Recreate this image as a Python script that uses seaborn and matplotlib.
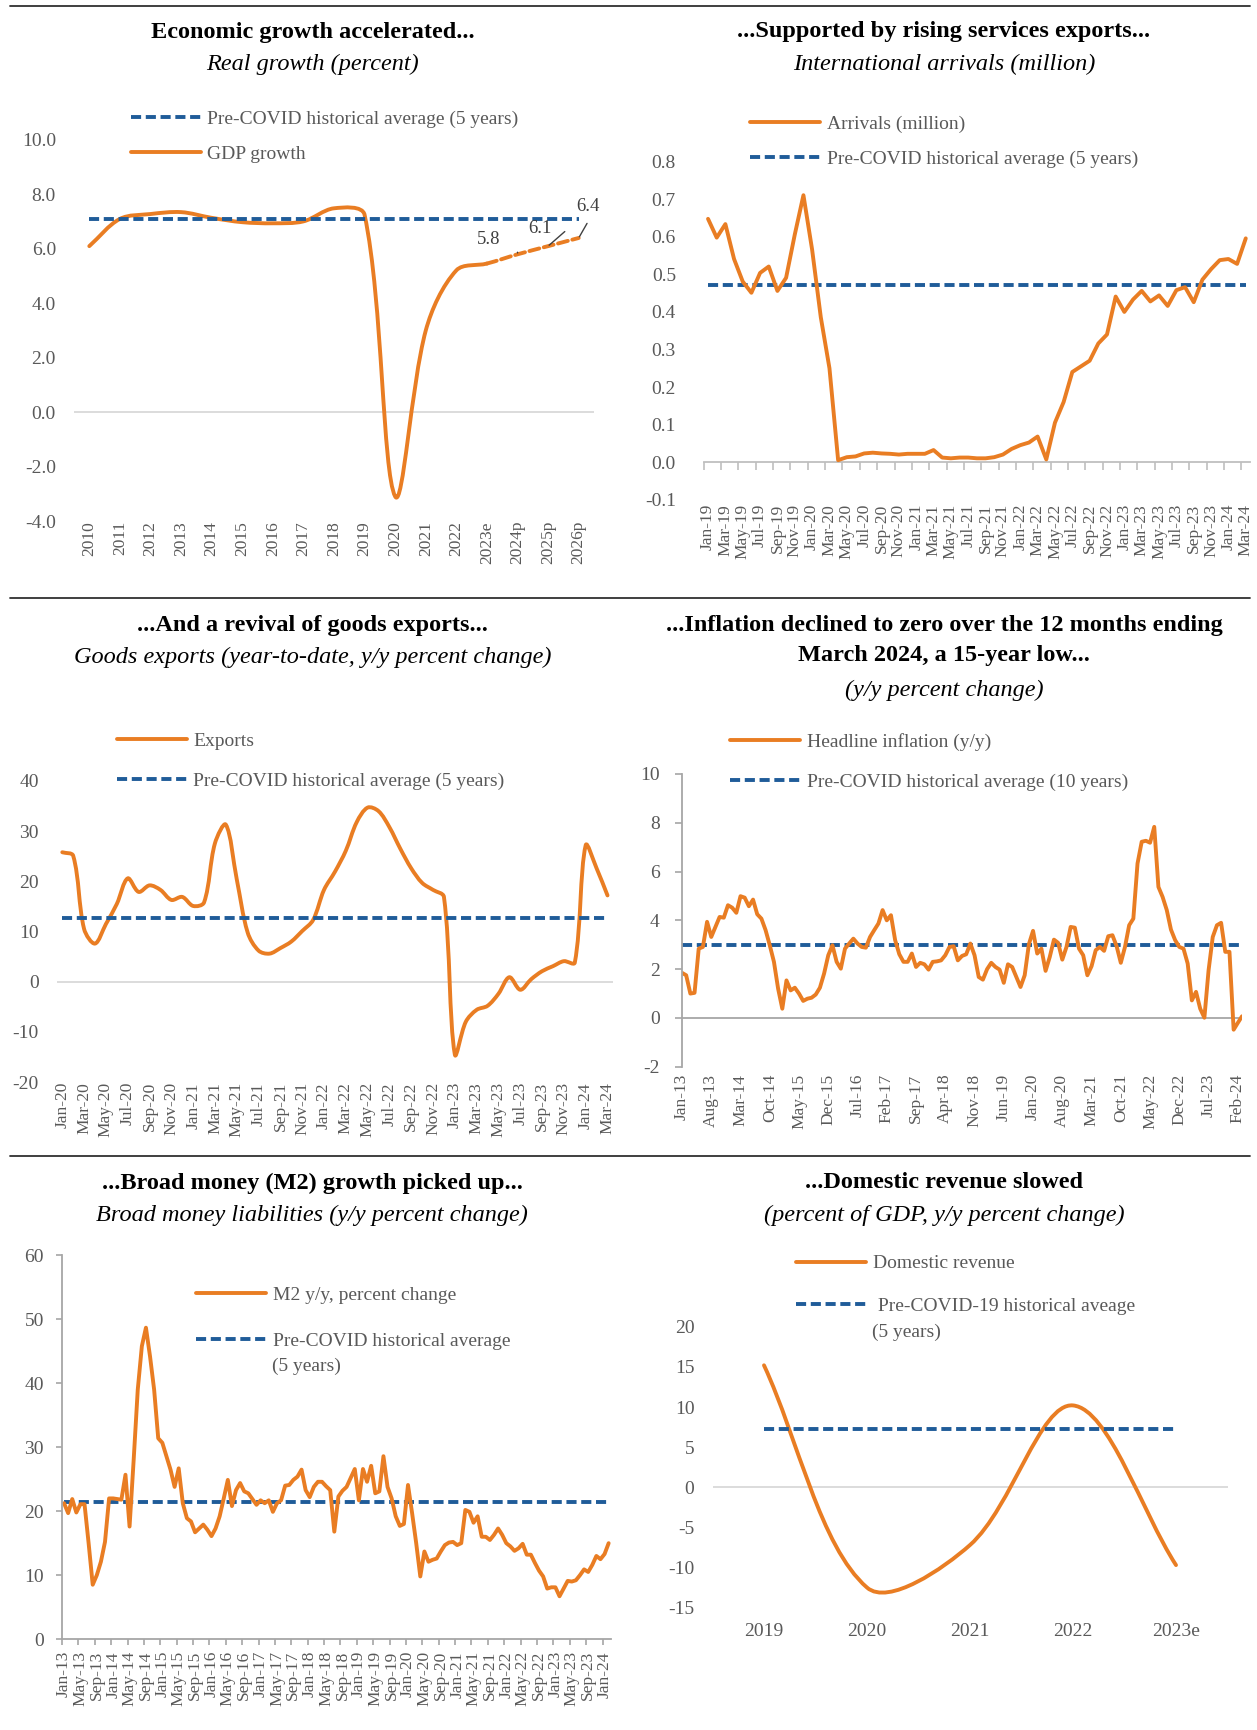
"""
Six small panels on growth, arrivals, goods exports, inflation,
broad money and domestic revenue (Excel-style line charts).
"""

import numpy as np
import pandas as pd
import matplotlib
matplotlib.use("Agg")
import matplotlib.pyplot as plt
import seaborn as sns
from matplotlib.lines import Line2D
from matplotlib.path import Path
from matplotlib.patches import PathPatch


# ---------------- data ----------------
gdp_years = ["2010", "2011", "2012", "2013", "2014", "2015", "2016", "2017", "2018",
             "2019", "2020", "2021", "2022", "2023e", "2024p", "2025p", "2026p"]
gdp_growth = [6.1, 7.1, 7.28, 7.35, 7.14, 6.98, 6.94, 7.01, 7.49,
              7.25, -3.1, 3.0, 5.21, 5.46, 5.8, 6.1, 6.4]
gdp_avg = 7.1

arrival_months = pd.date_range("2019-01", "2024-03", freq="MS").strftime("%b-%y").tolist()
arrivals = [0.648, 0.598, 0.634, 0.541, 0.481, 0.451, 0.504, 0.521, 0.456, 0.491,
            0.606, 0.711, 0.566, 0.386, 0.25, 0.005, 0.013, 0.015, 0.023, 0.025,
            0.023, 0.022, 0.02, 0.022, 0.022, 0.022, 0.032, 0.012, 0.01, 0.012,
            0.012, 0.01, 0.01, 0.013, 0.02, 0.035, 0.045, 0.052, 0.068, 0.007,
            0.105, 0.16, 0.24, 0.255, 0.27, 0.316, 0.34, 0.441, 0.40, 0.433,
            0.456, 0.428, 0.444, 0.416, 0.458, 0.466, 0.426, 0.486, 0.514, 0.538,
            0.541, 0.528, 0.596]
arrivals_avg = 0.471

export_months = pd.date_range("2020-01", "2024-03", freq="MS").strftime("%b-%y").tolist()
exports = [25.8, 25.1, 10.5, 7.6, 11.5, 15.5, 20.6, 17.9, 19.2, 18.3,
           16.3, 16.9, 15.1, 15.8, 27.6, 31.3, 20.4, 9.8, 6.2, 5.6,
           6.7, 8.0, 10.1, 12.3, 18.3, 21.9, 26.1, 31.8, 34.7, 34.0,
           30.8, 26.5, 22.6, 19.7, 18.3, 16.9, -14.5, -8.0, -5.6, -4.8,
           -2.4, 0.9, -1.6, 0.5, 2.1, 3.1, 4.1, 3.8, 27.2, 22.6,
           17.2]
exports_avg = 12.7

inflation_months = pd.date_range("2013-01", "2024-03", freq="MS").strftime("%b-%y").tolist()
inflation = [1.85, 1.75, 1.0, 1.03, 2.84, 2.91, 3.94, 3.32, 3.73, 4.14,
             4.11, 4.62, 4.52, 4.31, 4.99, 4.93, 4.58, 4.85, 4.25, 4.07,
             3.6, 2.98, 2.3, 1.2, 0.38, 1.54, 1.13, 1.24, 1.0, 0.7,
             0.79, 0.83, 0.96, 1.24, 1.82, 2.57, 2.98, 2.3, 2.02, 2.84,
             3.05, 3.25, 3.05, 2.91, 2.88, 3.32, 3.6, 3.87, 4.42, 4.0,
             4.21, 3.19, 2.61, 2.3, 2.3, 2.64, 2.09, 2.26, 2.2, 1.98,
             2.3, 2.32, 2.36, 2.57, 2.91, 2.94, 2.36, 2.54, 2.61, 3.05,
             2.57, 1.68, 1.57, 2.0, 2.26, 2.09, 1.98, 1.44, 2.2, 2.09,
             1.68, 1.27, 1.75, 3.02, 3.57, 2.64, 2.84, 1.93, 2.5, 3.21,
             3.08, 2.39, 2.91, 3.73, 3.7, 2.84, 2.57, 1.75, 2.12, 2.78,
             2.91, 2.75, 3.35, 3.39, 2.94, 2.26, 2.91, 3.8, 4.07, 6.33,
             7.22, 7.26, 7.18, 7.83, 5.37, 4.96, 4.42, 3.62, 3.19, 2.91,
             2.84, 2.23, 0.72, 1.07, 0.38, 0.01, 1.95, 3.32, 3.8, 3.9,
             2.71, 2.71, -0.48, -0.2, 0.07]
inflation_avg = 3.0

m2_months = pd.date_range("2013-01", "2024-02", freq="MS").strftime("%b-%y").tolist()
m2_growth = [21.25, 19.7, 21.9, 19.8, 21.1, 21.1, 15.0, 8.5, 10.0, 12.1,
             15.2, 22.0, 22.0, 21.9, 21.8, 25.7, 17.6, 28.0, 39.0, 45.8,
             48.7, 44.2, 39.0, 31.4, 30.7, 28.6, 26.5, 23.8, 26.7, 21.25,
             18.9, 18.4, 16.7, 17.3, 17.9, 17.1, 16.1, 17.3, 19.2, 22.0,
             24.9, 20.8, 23.3, 24.4, 23.1, 22.8, 21.9, 21.0, 21.7, 21.25,
             21.7, 19.9, 21.25, 21.7, 24.0, 24.1, 24.9, 25.4, 26.5, 23.3,
             22.2, 23.8, 24.6, 24.6, 23.9, 23.3, 16.8, 22.3, 23.2, 23.8,
             25.2, 26.6, 21.7, 26.6, 24.6, 27.1, 22.8, 23.1, 28.6, 23.8,
             22.0, 19.2, 17.7, 18.0, 24.1, 19.7, 15.0, 9.8, 13.7, 12.1,
             12.4, 12.6, 13.7, 14.7, 15.1, 15.2, 14.7, 15.0, 20.2, 19.9,
             18.2, 19.2, 16.0, 16.0, 15.5, 16.3, 17.3, 16.3, 15.0, 14.5,
             13.8, 14.2, 14.9, 13.2, 13.2, 11.9, 10.7, 9.8, 7.9, 8.1,
             8.1, 6.7, 7.9, 9.1, 9.0, 9.2, 10.0, 10.9, 10.5, 11.6,
             13.0, 12.5, 13.3, 15.0]
m2_avg = 21.5

revenue_years = ["2019", "2020", "2021", "2022", "2023e"]
revenue = [15.2, -12.5, -7.2, 10.2, -9.7]
revenue_avg = 7.2


# ---------------- styling ----------------
W, H = 1257, 1730
ORANGE = "#e97d23"
BLUE = "#1f5c99"
TXT = "#595959"
LW = 2.8
DASH = (0, (2.6, 1.2))

sns.set_theme(style="white")
plt.rcParams["font.family"] = ["Liberation Serif", "DejaVu Serif"]
plt.rcParams["axes.unicode_minus"] = False

fig = plt.figure(figsize=(W / 100, H / 100), dpi=100)
fig.patch.set_facecolor("white")


def px_axes(left, top, right, bottom):
    ax = fig.add_axes([left / W, 1 - bottom / H, (right - left) / W, (bottom - top) / H])
    ax.set_facecolor("none")
    for s in ax.spines.values():
        s.set_visible(False)
    ax.grid(False)
    return ax


def smooth_line(ax, xs, ys, first, last, **kw):
    # Excel-like smoothed line: bezier through the points, tangents weighted
    # by the on-screen length of the neighbouring segments (limits overshoot).
    # call after the axis limits are set
    pts = np.column_stack([xs, ys]).astype(float)
    scr = ax.transData.transform(pts)
    n = len(pts)

    def seg(i):
        return np.hypot(*(scr[i + 1] - scr[i])) if 0 <= i < n - 1 else 0.0

    def ctrl(i, forward):
        prv, nxt = pts[max(i - 1, 0)], pts[min(i + 1, n - 1)]
        d0, d1 = seg(i - 1), seg(i)
        tot = d0 + d1
        if tot == 0:
            return pts[i]
        w = (d1 if forward else d0) / tot / 3
        return pts[i] + (nxt - prv) * w * (1 if forward else -1)

    verts = [pts[first]]
    codes = [Path.MOVETO]
    for i in range(first, last):
        verts += [ctrl(i, True), ctrl(i + 1, False), pts[i + 1]]
        codes += [Path.CURVE4] * 3
    ax.add_patch(PathPatch(Path(verts, codes), fill=False, capstyle="round",
                           joinstyle="round", **kw))


def avg_line(ax, n, value):
    sns.lineplot(x=np.arange(n), y=[value] * n, color=BLUE, lw=LW,
                 linestyle=DASH, ax=ax, legend=False)


def key(x, y, label, dashed=False, color=ORANGE):
    h = Line2D([], [], color=color, lw=LW, linestyle=DASH if dashed else "-")
    fig.legend([h], [label], loc="center left", bbox_to_anchor=(x / W, 1 - y / H),
               frameon=False, borderpad=0, borderaxespad=0, handlelength=3.6,
               handletextpad=0.35, fontsize=14, labelcolor=TXT)


def title(x, y, text, italic=False):
    fig.text(x / W, 1 - y / H, text, ha="center", va="center",
             fontsize=17.5, style="italic" if italic else "normal",
             fontweight="normal" if italic else "bold", color="black")


def y_ticks(ax, ticks, fmt, pad, length=0):
    ax.set_yticks(ticks)
    ax.set_yticklabels([fmt.format(round(t, 2) + 0.0) for t in ticks])
    ax.tick_params(axis="y", left=length > 0, length=length, pad=pad,
                   labelsize=14, labelcolor=TXT, color="#a6a6a6", width=1.2)


def x_cats(ax, labels, step, pad, rot=90, size=12.5):
    pos = np.arange(0, len(labels), step)
    ax.set_xticks(pos)
    ax.set_xticklabels([labels[i] for i in pos], rotation=rot)
    ax.tick_params(axis="x", which="major", length=0, pad=pad,
                   labelsize=size, labelcolor=TXT)


def separator(y):
    fig.add_artist(Line2D([10 / W, 1250 / W], [1 - y / H, 1 - y / H],
                          transform=fig.transFigure, color="#303030", lw=1.3))


for yy in (5.6, 597.9, 1155.5):
    separator(yy)

# ---- panel 1: GDP growth ----
ax1 = px_axes(74, 140, 594, 521)
x1 = np.arange(len(gdp_years))
ax1.set_xlim(-0.5, len(x1) - 0.5)
ax1.set_ylim(-4, 10)
ax1.axhline(0, color="#d9d9d9", lw=1.3, zorder=0)
avg_line(ax1, len(x1), gdp_avg)
smooth_line(ax1, x1, gdp_growth, 0, 13, edgecolor=ORANGE, lw=LW)
smooth_line(ax1, x1, gdp_growth, 13, 16, edgecolor=ORANGE, lw=LW, linestyle=DASH)
ax1.set_xlim(-0.5, len(x1) - 0.5)
ax1.set_ylim(-4, 10)
y_ticks(ax1, np.arange(-4, 10.1, 2), "{:.1f}", 13)
x_cats(ax1, gdp_years, 1, 0)
ax1.set(xlabel="", ylabel="")
leader = [((0, 1.5), (-21, 11)), ((12, 10.5), (-6, 13)), ((6, 10.5), (7, 23))]
for (i, v), (end, txt) in zip(zip(x1[14:], gdp_growth[14:]), leader):
    ax1.annotate("", xy=(i, v), xytext=end, textcoords="offset points",
                 arrowprops=dict(arrowstyle="-", color="#404040", lw=1.0,
                                 shrinkA=0, shrinkB=1))
    ax1.annotate(f"{v:.1f}", xy=(i, v), xytext=txt, textcoords="offset points",
                 ha="center", va="center", fontsize=13.5, color="#404040")
title(312.4, 32.7, "Economic growth accelerated...")
title(312.4, 64, "Real growth (percent)", italic=True)
key(130.6, 119.3, "Pre-COVID historical average (5 years)", dashed=True, color=BLUE)
key(130.6, 154.3, "GDP growth")

# ---- panel 2: arrivals ----
ax2 = px_axes(703.7, 161.8, 1250.1, 499.6)
x2 = np.arange(len(arrival_months))
avg_line(ax2, len(x2), arrivals_avg)
sns.lineplot(x=x2, y=arrivals, color=ORANGE, lw=LW, ax=ax2, legend=False)
ax2.set_xlim(-0.5, len(x2) - 0.5)
ax2.set_ylim(-0.1, 0.8)
y_ticks(ax2, np.arange(-0.1, 0.85, 0.1), "{:.1f}", 20)
x_cats(ax2, arrival_months, 2, 3)
ax2.set(xlabel="", ylabel="")
sec2 = ax2.secondary_xaxis(0.1 / 0.9)
sec2.set_xticks(np.arange(-0.5, len(x2), 2))
sec2.tick_params(axis="x", length=5.5, width=1.2, color="#bfbfbf", direction="out",
                 bottom=True, labelbottom=False)
sec2.spines["bottom"].set_color("#bfbfbf")
sec2.spines["bottom"].set_linewidth(1.3)
title(944, 32, "...Supported by rising services exports...")
title(944, 64, "International arrivals (million)", italic=True)
key(750, 124.2, "Arrivals (million)")
key(750, 158.8, "Pre-COVID historical average (5 years)", dashed=True, color=BLUE)

# ---- panel 3: goods exports ----
ax3 = px_axes(56.85, 781, 612.95, 1082.1)
x3 = np.arange(len(export_months))
ax3.set_xlim(-0.5, len(x3) - 0.5)
ax3.set_ylim(-20, 40)
ax3.axhline(0, color="#d9d9d9", lw=1.3, zorder=0)
avg_line(ax3, len(x3), exports_avg)
smooth_line(ax3, x3, exports, 0, len(x3) - 1, edgecolor=ORANGE, lw=LW)
ax3.set_xlim(-0.5, len(x3) - 0.5)
ax3.set_ylim(-20, 40)
y_ticks(ax3, np.arange(-20, 41, 10), "{:.0f}", 13)
x_cats(ax3, export_months, 2, 0)
ax3.set(xlabel="", ylabel="")
title(312.4, 625.7, "...And a revival of goods exports...")
title(312.4, 657.9, "Goods exports (year-to-date, y/y percent change)", italic=True)
key(116.5, 740.7, "Exports")
key(116.5, 781, "Pre-COVID historical average (5 years)", dashed=True, color=BLUE)

# ---- panel 4: inflation ----
ax4 = px_axes(682, 773.9, 1242, 1066.8)
x4 = np.arange(len(inflation_months))
ax4.axhline(0, color="#a6a6a6", lw=1.3, zorder=0)
ax4.spines["left"].set_visible(True)
ax4.spines["left"].set_color("#a6a6a6")
ax4.spines["left"].set_linewidth(1.3)
avg_line(ax4, len(x4), inflation_avg)
sns.lineplot(x=x4, y=inflation, color=ORANGE, lw=LW, ax=ax4, legend=False)
ax4.set_xlim(0, len(x4) - 1)
ax4.set_ylim(-2, 10)
y_ticks(ax4, np.arange(-2, 10.1, 2), "{:.0f}", 11, length=5)
x_cats(ax4, inflation_months, 7, 5)
ax4.set(xlabel="", ylabel="")
title(944, 625.7, "...Inflation declined to zero over the 12 months ending")
title(944, 656, "March 2024, a 15-year low...")
title(944, 690, "(y/y percent change)", italic=True)
key(730, 741.8, "Headline inflation (y/y)")
key(730, 782.1, "Pre-COVID historical average (10 years)", dashed=True, color=BLUE)

# ---- panel 5: broad money ----
ax5 = px_axes(62, 1255.4, 610.7, 1639.1)
x5 = np.arange(len(m2_months))
for side in ("left", "bottom"):
    ax5.spines[side].set_visible(True)
    ax5.spines[side].set_color("#a6a6a6")
    ax5.spines[side].set_linewidth(1.3)
avg_line(ax5, len(x5), m2_avg)
sns.lineplot(x=x5, y=m2_growth, color=ORANGE, lw=LW, ax=ax5, legend=False)
ax5.set_xlim(-0.5, len(x5) - 0.5)
ax5.set_ylim(0, 60)
y_ticks(ax5, np.arange(0, 61, 10), "{:.0f}", 9, length=4)
x_cats(ax5, m2_months, 4, 8.6)
ax5.set_xticks(np.arange(-0.5, len(x5), 4), minor=True)
ax5.tick_params(axis="x", which="minor", bottom=True, length=4.3, width=1.2,
                color="#a6a6a6", direction="out")
ax5.set(xlabel="", ylabel="")
title(312.4, 1183.3, "...Broad money (M2) growth picked up...")
title(312.4, 1215.9, "Broad money liabilities (y/y percent change)", italic=True)
key(195.7, 1295, "M2 y/y, percent change")
key(195.7, 1341.3, "Pre-COVID historical average", dashed=True, color=BLUE)
fig.text(272 / W, 1 - 1366.4 / H, "(5 years)", ha="left", va="center",
         fontsize=14, color=TXT)

# ---- panel 6: domestic revenue ----
ax6 = px_axes(712.5, 1326.8, 1227.5, 1607.6)
x6 = np.arange(len(revenue_years))
ax6.set_xlim(-0.5, len(x6) - 0.5)
ax6.set_ylim(-15, 20)
ax6.axhline(0, color="#d9d9d9", lw=1.3, zorder=0)
avg_line(ax6, len(x6), revenue_avg)
smooth_line(ax6, x6, revenue, 0, len(x6) - 1, edgecolor=ORANGE, lw=LW)
ax6.set_xlim(-0.5, len(x6) - 0.5)
ax6.set_ylim(-15, 20)
y_ticks(ax6, np.arange(-15, 21, 5), "{:.0f}", 13)
x_cats(ax6, revenue_years, 1, 11, rot=0, size=14)
ax6.set(xlabel="", ylabel="")
title(944, 1182.6, "...Domestic revenue slowed")
title(944, 1215.9, "(percent of GDP, y/y percent change)", italic=True)
key(796, 1263.6, "Domestic revenue")
key(796, 1306.1, " Pre-COVID-19 historical aveage", dashed=True, color=BLUE)
fig.text(872 / W, 1 - 1332 / H, "(5 years)", ha="left", va="center",
         fontsize=14, color=TXT)

fig.savefig("out.png", dpi=100, facecolor="white")
